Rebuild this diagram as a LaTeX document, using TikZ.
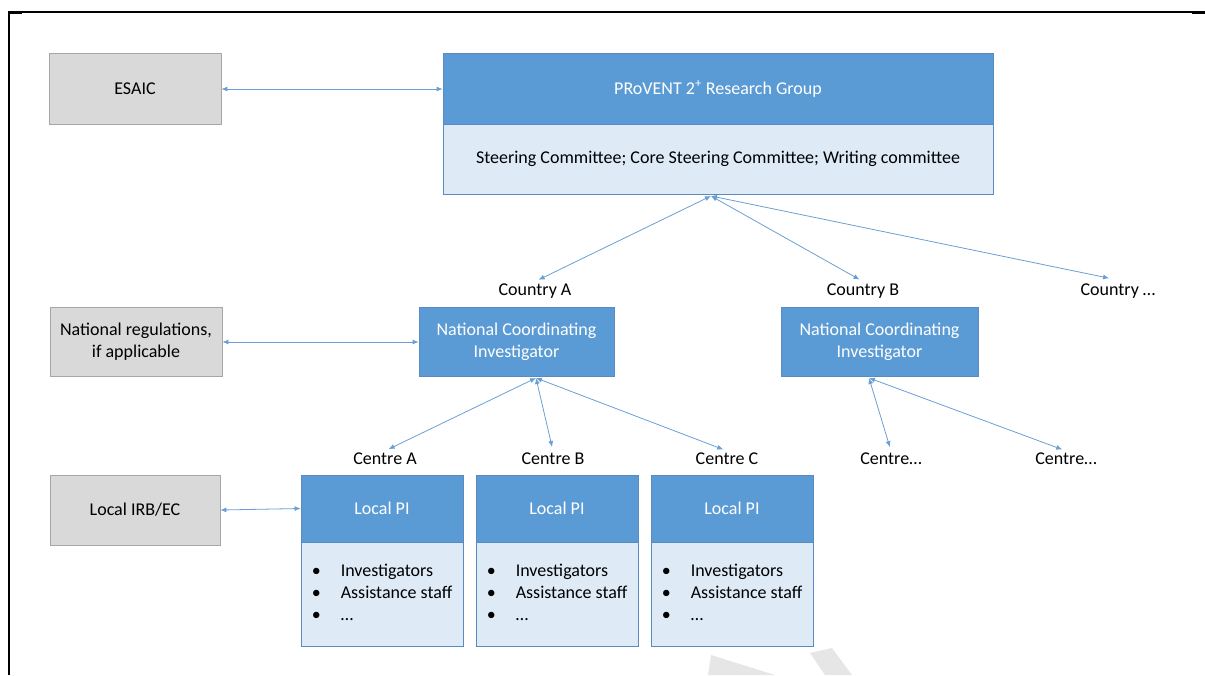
\documentclass[tikz,border=0pt]{standalone}
\usepackage{fontspec}
\setmainfont{Carlito}
\usetikzlibrary{arrows.meta}
\definecolor{bl}{HTML}{5B9BD5}
\definecolor{bll}{HTML}{DEEBF7}
\definecolor{blb}{HTML}{5A8AC0}
\definecolor{gr}{HTML}{D9D9D9}
\definecolor{grb}{HTML}{A6A6A6}
\definecolor{arr}{HTML}{6A9FD4}
\definecolor{wm}{HTML}{E6E6E6}
\begin{document}
\begin{tikzpicture}[x=1pt,y=-1pt,
  every node/.style={font=\fontsize{18}{22}\selectfont},
  greybox/.style={draw=grb, fill=gr, line width=0.8pt, inner sep=0pt, align=center},
  bluebox/.style={draw=blb, fill=bl, line width=0.8pt, inner sep=0pt, align=center, text=white},
  lightbox/.style={draw=blb, fill=bll, line width=0.8pt, inner sep=0pt, align=center},
  lbl/.style={inner sep=2pt},
  conn/.style={draw=arr, line width=0.8pt, {Latex[length=6pt,width=5pt]}-{Latex[length=6pt,width=5pt]}},
  frameline/.style={draw=black, line width=1.6pt}
]
\useasboundingbox (0,0) rectangle (1205,675);
% frame
\coordinate (f1) at (9,675);
\coordinate (f2) at (9,12);
\coordinate (f3) at (1205,12);
\draw[frameline] (f1) -- (f2) -- (f3);
\coordinate (f4) at (8,13);
\coordinate (f5) at (22,13);
\draw[line width=2.4pt] (f4) -- (f5);
\coordinate (f6) at (1192,13);
\coordinate (f7) at (1205,13);
\draw[line width=2.4pt] (f6) -- (f7);

% watermark
\fill[wm] (708,675) -- (711,655) -- (775,675) -- cycle;
\fill[wm] (810,653) -- (832,648) -- (852,675) -- (825,675) -- cycle;

% top level
\node[greybox, minimum width=172pt, minimum height=71pt] (esaic) at (135,89) {ESAIC};
\node[bluebox, minimum width=550pt, minimum height=71pt] (prov) at (718,89) {PRoVENT 2\textsuperscript{+} Research Group};
\node[lightbox, minimum width=550pt, minimum height=70pt] (provlow) at (718,159) {Steering Committee; Core Steering Committee; Writing committee};
\draw[conn] (esaic.east) -- (prov.west);

\coordinate (pt) at (711,196);
\node[lbl] (ca) at (535,291) {Country A};
\node[lbl] (cb) at (863,291) {Country B};
\node[lbl] (cd) at (1118,291) {Country …};
\draw[conn, shorten >=4pt] (pt) -- (ca.north);
\draw[conn, shorten >=4pt] (pt) -- (cb.north);
\coordinate (cdt) at (1113,279);
\draw[conn, shorten >=4pt] (pt) -- (cdt);

% national level
\node[greybox, minimum width=172pt, minimum height=69pt] (natreg) at (136,342) {National regulations,\\if applicable};
\node[bluebox, minimum width=195pt, minimum height=69pt] (ncia) at (516.5,342) {National Coordinating\\Investigator};
\node[bluebox, minimum width=197pt, minimum height=69pt] (ncib) at (879.5,342) {National Coordinating\\Investigator};
\draw[conn] (natreg.east) -- (ncia.west);

\coordinate (pa) at (536,378);
\coordinate (pb) at (869,378);
\node[lbl] (cea) at (385,459) {Centre A};
\node[lbl] (ceb) at (553,459) {Centre B};
\node[lbl] (cec) at (727,459) {Centre C};
\node[lbl] (ced) at (891,459) {Centre…};
\node[lbl] (cee) at (1066,459) {Centre…};
\draw[conn, shorten >=4pt] (pa) -- (cea.north);
\draw[conn, shorten >=4pt] (pa) -- (ceb.north);
\draw[conn, shorten >=4pt] (pa) -- (cec.north);
\draw[conn, shorten >=4pt] (pb) -- (ced.north);
\draw[conn, shorten >=4pt] (pb) -- (cee.north);

% local level
\node[greybox, minimum width=170pt, minimum height=70pt] (irb) at (135,510) {Local IRB/EC};
\foreach \n/\x in {a/382, b/557, c/732} {
  \node[bluebox, minimum width=162pt, minimum height=67pt] (pi\n) at (\x,508.5) {Local PI};
  \node[lightbox, minimum width=162pt, minimum height=104pt] (st\n) at (\x,594) {};
  \node[anchor=west, inner sep=0pt] (ls\n) at ([xshift=11pt]st\n.west) {\begin{tabular}{@{}l@{\hspace{20pt}}l@{}}•&Investigators\\ •&Assistance staff\\ •&…\end{tabular}};
}
\draw[conn] (irb.east) -- (pia.west);
\end{tikzpicture}
\end{document}
